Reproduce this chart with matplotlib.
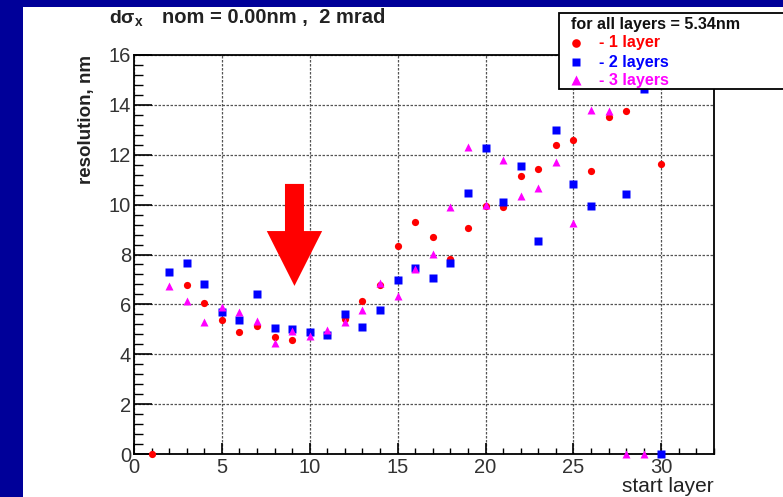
import numpy as np
import matplotlib
matplotlib.use("Agg")
import matplotlib.pyplot as plt
from matplotlib.patches import Rectangle, FancyArrow
from matplotlib.ticker import MultipleLocator

plt.rcParams['font.family'] = ['Liberation Sans', 'DejaVu Sans']

# start layer -> resolution, nm
x_1layer = [1, 3, 4, 5, 6, 7, 8, 9, 10, 11, 12, 13, 14, 15, 16, 17, 18, 19, 20,
            21, 22, 23, 24, 25, 26, 27, 28, 30]
y_1layer = [0.0, 6.77, 6.06, 5.39, 4.88, 5.15, 4.69, 4.56, 4.88, 4.78, 5.41, 6.13,
            6.76, 8.34, 9.30, 8.69, 7.82, 9.05, 9.94, 9.90, 11.16, 11.43, 12.38,
            12.58, 11.36, 13.53, 13.77, 11.64]

x_2layers = [2, 3, 4, 5, 6, 7, 8, 9, 10, 11, 12, 13, 14, 15, 16, 17, 18, 19, 20,
             21, 22, 23, 24, 25, 26, 28, 29, 30]
y_2layers = [7.31, 7.65, 6.82, 5.68, 5.39, 6.40, 5.04, 5.01, 4.90, 4.76, 5.60, 5.08,
             5.77, 6.98, 7.47, 7.04, 7.65, 10.48, 12.26, 10.12, 11.53, 8.53, 12.99,
             10.83, 9.94, 10.42, 14.62, 0.0]

x_3layers = [2, 3, 4, 5, 6, 7, 8, 9, 10, 11, 12, 13, 14, 15, 16, 17, 18, 19, 20,
             21, 22, 23, 24, 25, 26, 27, 28, 29]
y_3layers = [6.75, 6.15, 5.31, 5.91, 5.68, 5.33, 4.44, 4.95, 4.72, 4.97, 5.28, 5.79,
             6.84, 6.34, 7.42, 8.02, 9.89, 12.30, 9.97, 11.78, 10.36, 10.68, 11.71,
             9.27, 13.78, 13.74, 0.0, 0.0]

fig = plt.figure(figsize=(7.83, 4.97), dpi=100, facecolor='#000099')
W, H = 783, 497

# white slide panel
fig.patches.append(Rectangle((23 / W, 0), 1, (H - 7) / H, transform=fig.transFigure,
                             facecolor='white', edgecolor='none', zorder=-5))

ax = fig.add_axes([134 / W, (H - 454) / H, (714 - 134) / W, (454 - 55) / H])
ax.set_xlim(0, 33)
ax.set_ylim(0, 16)

ax.plot(x_1layer, y_1layer, 'o', color='#ff0000', ms=5.2, mec='none', clip_on=False, zorder=3)
ax.plot(x_2layers, y_2layers, 's', color='#0000ff', ms=5.6, mec='none', clip_on=False, zorder=4)
ax.plot(x_3layers, y_3layers, '^', color='#ff00ff', ms=5.8, mec='none', clip_on=False, zorder=5)

# big red arrow
ax.add_patch(FancyArrow(9.13, 10.83, 0, -4.09, width=1.08, head_width=3.15,
                        head_length=2.2, length_includes_head=True,
                        color='#ff0000', lw=0, zorder=6))

ax.xaxis.set_major_locator(MultipleLocator(5))
ax.xaxis.set_minor_locator(MultipleLocator(1))
ax.yaxis.set_major_locator(MultipleLocator(2))
ax.yaxis.set_minor_locator(MultipleLocator(0.4))
ax.tick_params(axis='x', which='major', direction='in', length=8, width=1.2,
               labelsize=14.5, labelcolor='#333333', pad=3, top=False)
ax.tick_params(axis='x', which='minor', direction='in', length=4.5, width=1, top=False)
ax.tick_params(axis='y', which='major', direction='in', length=13, width=1.2,
               labelsize=14.5, labelcolor='#333333', pad=2, right=False)
ax.tick_params(axis='y', which='minor', direction='in', length=6.5, width=1, right=False)
ax.grid(True, which='major', color='#555555', linestyle=(0, (2, 1.2)), linewidth=0.9)
for s in ax.spines.values():
    s.set_linewidth(1.3)
    s.set_color('black')

fig.text(87 / W, 1 - 119 / H, 'resolution, nm', rotation=90, fontsize=13.5,
         fontweight='bold', color='#222222', ha='center', va='center')
fig.text(714 / W, 1 - 486 / H, 'start layer', fontsize=15, color='#222222',
         ha='right', va='center')
fig.text(109 / W, 1 - 18 / H, r'd$\mathregular{σ_x}$', fontsize=14,
         fontweight='bold', color='#222222', ha='left', va='center')
fig.text(162 / W, 1 - 18 / H, 'nom = 0.00nm ,  2 mrad', fontsize=14.5,
         fontweight='bold', color='#222222', ha='left', va='center')

# legend box
fig.patches.append(Rectangle((559 / W, 1 - 89 / H), 300 / W, 76 / H, transform=fig.transFigure,
                             facecolor='white', edgecolor='black', lw=1.3, zorder=10))
fig.text(571 / W, 1 - 25 / H, 'for all layers = 5.34nm', fontsize=11.6, fontweight='bold',
         color='#111111', ha='left', va='center', zorder=11)
entries = [('o', '#ff0000', '- 1 layer', 43, 6.2),
           ('s', '#0000ff', '- 2 layers', 62, 6.4),
           ('^', '#ff00ff', '- 3 layers', 80, 6.6)]
for m, c, lab, yy, ms in entries:
    fig.add_artist(plt.Line2D([576 / W], [1 - yy / H], marker=m, color=c, ms=ms, mec='none',
                              transform=fig.transFigure, zorder=11))
    fig.text(599 / W, 1 - yy / H, lab, fontsize=11.6, fontweight='bold', color=c,
             ha='left', va='center', zorder=11)

fig.savefig('out.png', dpi=100, facecolor=fig.get_facecolor())
